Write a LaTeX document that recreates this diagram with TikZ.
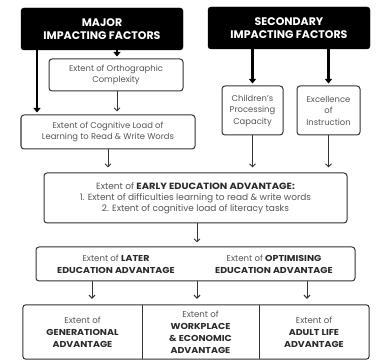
\documentclass[tikz,border=0pt]{standalone}
\usepackage{fontspec}
\setmainfont{Poppins}
\usetikzlibrary{arrows.meta,calc}
\definecolor{txt}{HTML}{555555}
\definecolor{btxt}{HTML}{2A2A2A}
\definecolor{edge}{HTML}{333333}
\tikzset{
  box/.style={draw=edge,line width=1pt,rounded corners=3pt,fill=white,align=center,
    text=txt,font=\fontsize{8.4}{11.5}\selectfont,inner sep=1pt},
  head/.style={draw=black,fill=black,rounded corners=3pt,align=center,text=white,
    font=\fontsize{11}{13}\selectfont\bfseries,inner sep=1pt},
  bigarrow/.style={line width=2.4pt,draw=black,-{Triangle[width=7pt,length=4.5pt]}},
  thinarrow/.style={line width=1pt,draw=edge,-{Straight Barb[width=6pt,length=3pt]}},
  cell/.style={align=center,text=txt,font=\fontsize{8.6}{12}\selectfont,inner sep=0pt},
}
\newcommand{\bt}[1]{\textcolor{btxt}{\textbf{\addfontfeature{FakeStretch=1.1}#1}}}
\begin{document}
\begin{tikzpicture}[x=1pt,y=-1pt]
\useasboundingbox (0,0) rectangle (376,361);
\node[head,minimum width=162pt,minimum height=42pt] (major) at (102,29) {MAJOR\\IMPACTING FACTORS};
\node[head,minimum width=162pt,minimum height=42pt] (second) at (289,28) {SECONDARY\\IMPACTING FACTORS};
\node[box,minimum width=134pt,minimum height=32pt] (ortho) at (116,75) {Extent of Orthographic\\Complexity};
\node[box,minimum width=174pt,minimum height=34pt] (cog) at (108,132) {Extent of Cognitive Load of\\Learning to Read \& Write Words};
\node[box,minimum width=61pt,minimum height=49pt] (child) at (252.5,110.5) {Children's\\Processing\\Capacity};
\node[box,minimum width=63pt,minimum height=49pt] (excel) at (328.5,110.5) {Excellence\\of\\Instruction};
\node[box,minimum width=303pt,minimum height=50pt,font=\fontsize{9}{10.8}\selectfont] (early) at (195.5,198) {Extent of \bt{EARLY EDUCATION ADVANTAGE:}\\1. Extent of difficulties learning to read \& write words\\2. Extent of cognitive load of literacy tasks};
\node[box,minimum width=319pt,minimum height=34pt] (later) at (195.5,264) {};
\node[cell] (latert) at (116,264) {Extent of \bt{LATER}\\\bt{EDUCATION ADVANTAGE}};
\node[cell] (optt) at (274,264) {Extent of \bt{OPTIMISING}\\\bt{EDUCATION ADVANTAGE}};
\node[cell,minimum width=119pt,minimum height=54pt] (gen) at (82.5,332) {Extent of\\\bt{GENERATIONAL}\\\bt{ADVANTAGE}};
\node[cell,minimum width=117pt,minimum height=54pt] (work) at (200.5,332) {Extent of\\\bt{WORKPLACE}\\\bt{\& ECONOMIC}\\\bt{ADVANTAGE}};
\node[cell,minimum width=110pt,minimum height=54pt] (adult) at (314,332) {Extent of\\\bt{ADULT LIFE}\\\bt{ADVANTAGE}};
\draw[draw=edge,line width=1pt,rounded corners=3pt] (gen.north west) rectangle (adult.south east);
\draw[draw=edge,line width=1pt] (gen.north east) -- (gen.south east);
\draw[draw=edge,line width=1pt] (work.north east) -- (work.south east);
% thick arrows
\coordinate (mleft) at (37,0);
\coordinate (mmid) at (117,0);
\draw[bigarrow,shorten >=2pt] (major.south -| mmid) -- (ortho.north -| mmid);
\draw[bigarrow,shorten >=2pt] (major.south -| mleft) -- (cog.north -| mleft);
\draw[bigarrow,shorten >=2pt] (second.south -| child.north) -- (child.north);
\draw[bigarrow,shorten >=2pt] (second.south -| excel.north) -- (excel.north);
% thin arrows
\draw[thinarrow,shorten >=3pt] (ortho.south -| mmid) -- (cog.north -| mmid);
\draw[thinarrow,shorten >=5pt] (cog.south) -- (cog.south |- early.north);
\draw[thinarrow,shorten >=5pt] (child.south) -- (child.south |- early.north);
\draw[thinarrow,shorten >=5pt] (excel.south) -- (excel.south |- early.north);
\coordinate (emid) at (197,0);
\draw[thinarrow,shorten >=4pt] (early.south -| emid) -- (later.north -| emid);
\coordinate (b1) at (92,0);
\coordinate (b3) at (307,0);
\draw[thinarrow,shorten >=6pt] (later.south -| b1) -- (gen.north -| b1);
\draw[thinarrow,shorten >=6pt] (later.south -| emid) -- (gen.north -| emid);
\draw[thinarrow,shorten >=6pt] (later.south -| b3) -- (gen.north -| b3);
\end{tikzpicture}
\end{document}
